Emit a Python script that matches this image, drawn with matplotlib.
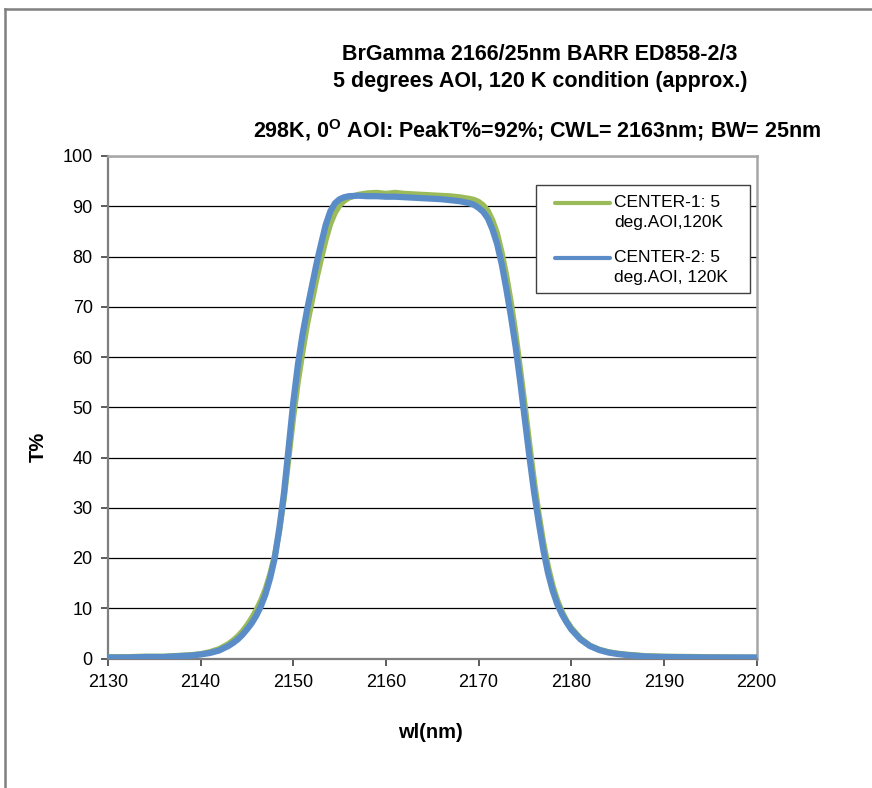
import matplotlib
matplotlib.use("Agg")
import matplotlib.pyplot as plt
from matplotlib.lines import Line2D
from matplotlib.patches import Rectangle

plt.rcParams['font.family'] = ['Liberation Sans', 'DejaVu Sans']
plt.rcParams['mathtext.fontset'] = 'custom'
plt.rcParams['mathtext.rm'] = 'Liberation Sans'
plt.rcParams['mathtext.bf'] = 'Liberation Sans:bold'

# ---- data ----
wavelength = [2130, 2132, 2134, 2136, 2138, 2139, 2140, 2141, 2142, 2143, 2143.5, 2144, 2144.5,
              2145, 2145.5, 2146, 2146.5, 2147, 2147.5, 2148, 2148.5, 2149, 2149.5, 2150, 2150.5,
              2151, 2151.5, 2152, 2152.5, 2153, 2153.5, 2154, 2154.5, 2155, 2155.5, 2156, 2157,
              2158, 2159, 2160, 2161, 2162, 2163, 2164, 2165, 2166, 2167, 2168, 2169, 2169.5,
              2170, 2170.5, 2171, 2171.5, 2172, 2172.5, 2173, 2173.5, 2174, 2174.5, 2175, 2175.5,
              2176, 2176.5, 2177, 2177.5, 2178, 2178.5, 2179, 2179.5, 2180, 2181, 2182, 2183,
              2184, 2185, 2186, 2188, 2190, 2195, 2200]
t_center1 = [0.3, 0.3, 0.4, 0.4, 0.6, 0.7, 0.9, 1.3, 1.9, 2.9, 3.6, 4.4, 5.4,
             6.6, 8.0, 9.6, 11.5, 13.8, 16.8, 20.5, 25.5, 32, 40, 48, 55,
             61, 66.5, 71, 75.5, 79.5, 83.3, 86.5, 88.7, 90.2, 91.1, 91.7, 92.3,
             92.6, 92.7, 92.5, 92.7, 92.5, 92.4, 92.3, 92.2, 92.1, 92.0, 91.8, 91.5, 91.3,
             90.9, 90.2, 89.1, 87.2, 84.6, 80.8, 76.2, 70.8, 64.6, 57.5, 50.2, 42.5,
             35.2, 28.7, 23.0, 18.3, 14.5, 11.6, 9.3, 7.5, 6.1, 4.0, 2.6, 1.8,
             1.3, 1.0, 0.8, 0.5, 0.4, 0.3, 0.2]
t_center2 = [0.2, 0.2, 0.3, 0.3, 0.5, 0.6, 0.8, 1.1, 1.6, 2.5, 3.1, 3.8, 4.7,
             5.8, 7.0, 8.5, 10.4, 12.8, 16.0, 20, 26, 33, 42, 51, 58.5,
             64.5, 69.5, 74, 78.5, 82.5, 86.3, 89.0, 90.6, 91.4, 91.8, 92.0, 92.1,
             92.0, 92.0, 91.9, 91.9, 91.8, 91.7, 91.6, 91.5, 91.4, 91.2, 91.0, 90.6, 90.3,
             89.7, 88.9, 87.6, 85.4, 82.5, 78.5, 73.5, 68, 62, 55, 47.5, 40,
             33, 27, 21.5, 17, 13.5, 10.8, 8.8, 7.2, 5.8, 3.8, 2.5, 1.7,
             1.2, 0.9, 0.7, 0.4, 0.3, 0.2, 0.2]

series_labels = ["CENTER-1: 5\ndeg.AOI,120K", "CENTER-2: 5\ndeg.AOI, 120K"]
x_ticks = [2130, 2140, 2150, 2160, 2170, 2180, 2190, 2200]
y_ticks = [0, 10, 20, 30, 40, 50, 60, 70, 80, 90, 100]

GREEN = '#9BBB59'
BLUE = '#5A8DC8'

W, H = 872, 788
fig = plt.figure(figsize=(W / 100, H / 100), dpi=100)

# axes placement (pixels)
L, R, T, B = 108, 756.5, 156, 658.5
ax = fig.add_axes([L / W, (H - B) / H, (R - L) / W, (B - T) / H])

ax.plot(wavelength, t_center1, color=GREEN, lw=4.2, solid_capstyle='round',
        solid_joinstyle='round', zorder=3)
ax.plot(wavelength, t_center2, color=BLUE, lw=4.5, solid_capstyle='round',
        solid_joinstyle='round', zorder=4)

ax.set_xlim(2130, 2200)
ax.set_ylim(0, 100)
ax.set_xticks(x_ticks)
ax.set_yticks(y_ticks)
ax.tick_params(axis='both', labelsize=13, direction='out', length=5, width=1.2,
               color='#404040', pad=6)
ax.yaxis.grid(True, color='black', lw=0.9)
ax.set_axisbelow(True)
for s in ['left', 'bottom']:
    ax.spines[s].set_color('#7f7f7f')
    ax.spines[s].set_linewidth(1.6)
for s in ['top', 'right']:
    ax.spines[s].set_color('#a6a6a6')
    ax.spines[s].set_linewidth(1.8)

ax.set_xlabel('wl(nm)', fontsize=14.5, fontweight='bold')
ax.set_ylabel('T%', fontsize=14.5, fontweight='bold')
ax.xaxis.set_label_coords((430 - L) / (R - L), (B - 732) / (B - T))
ax.yaxis.set_label_coords((38 - L) / (R - L), (B - 447) / (B - T))
ax.xaxis.label.set_va('center')
ax.yaxis.label.set_va('center')

# legend (manual, handle aligned with first text line)
def px_ax(x, y):
    return ((x - L) / (R - L), (B - y) / (B - T))

x0, y0 = px_ax(536, 293)
x1, y1 = px_ax(750, 185)
ax.add_patch(Rectangle((x0, y0), x1 - x0, y1 - y0, transform=ax.transAxes,
                       facecolor='white', edgecolor='#404040', lw=1.0, zorder=6))
for (ly, col, lab) in [(203, GREEN, series_labels[0]), (258, BLUE, series_labels[1])]:
    hx0, hy = px_ax(555, ly)
    hx1, _ = px_ax(610, ly)
    ax.add_line(Line2D([hx0, hx1], [hy, hy], transform=ax.transAxes, color=col,
                       lw=3, solid_capstyle='round', zorder=7))
    tx, ty = px_ax(614, ly - 8)
    ax.text(tx, ty, lab, transform=ax.transAxes, fontsize=12.5, va='top', ha='left',
            linespacing=1.4, zorder=8)

# titles
fig.text(540 / W, 1 - 54 / H, 'BrGamma 2166/25nm BARR ED858-2/3', ha='center', va='center',
         fontsize=15.5, fontweight='bold')
fig.text(540 / W, 1 - 81 / H, '5 degrees AOI, 120 K condition (approx.)', ha='center',
         va='center', fontsize=15.5, fontweight='bold')
fig.text(537 / W, 1 - 130 / H,
         r'298K, 0$^{\mathbf{O}}$ AOI: PeakT%=92%; CWL= 2163nm; BW= 25nm',
         ha='center', va='center', fontsize=15.5, fontweight='bold')

# outer chart frame (left and top edges visible)
fig.add_artist(Line2D([5 / W, 5 / W], [0, 1 - 9 / H], transform=fig.transFigure,
                      color='#808080', lw=1.8))
fig.add_artist(Line2D([5 / W, 1], [1 - 9 / H, 1 - 9 / H], transform=fig.transFigure,
                      color='#808080', lw=1.8))

fig.savefig('out.png', dpi=100)
